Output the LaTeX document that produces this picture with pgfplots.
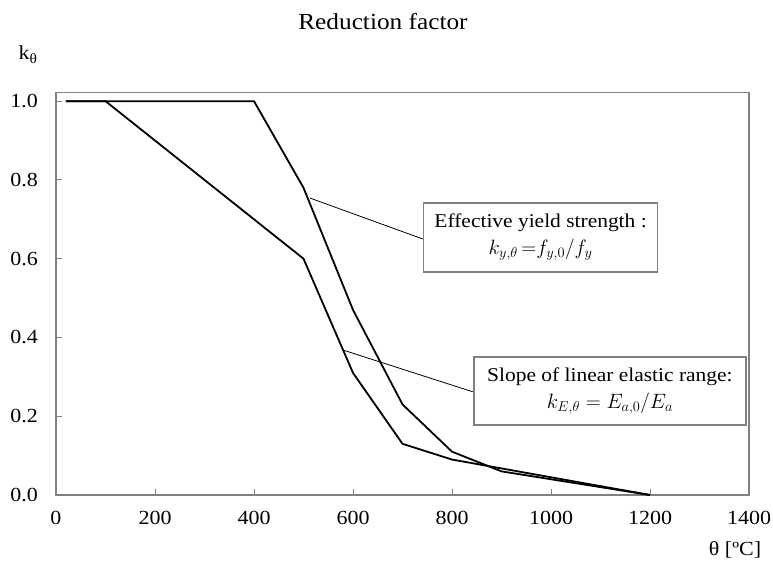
\documentclass[border=0pt]{standalone}
\usepackage{fontspec}
\setmainfont{Liberation Serif}[FakeStretch=1.1]
\usepackage{pgfplots}
\pgfplotsset{compat=1.18}
\definecolor{framegray}{RGB}{128,128,128}
\begin{document}
\begin{tikzpicture}[x=1pt,y=1pt]
\begin{axis}[
  at={(56pt,65pt)}, anchor=south west,
  scale only axis, width=693pt, height=402.5pt,
  xmin=0, xmax=1400, ymin=0, ymax=1.022,
  xtick={0,200,...,1400},
  ytick={0,0.2,0.4,0.6,0.8,1.0},
  axis line style={framegray, line width=1.3pt},
  tick style={framegray, line width=1pt},
  tick align=inside, major tick length=6pt,
  xtick pos=bottom, ytick pos=left,
  /pgf/number format/assume math mode=true,
  yticklabel={\pgfmathprintnumber[fixed,fixed zerofill,precision=1]{\tick}},
  xticklabel={\pgfmathprintnumber[fixed,precision=0,1000 sep={}]{\tick}},
  ticklabel style={font=\fontsize{20}{24}\selectfont, inner sep=0pt},
  yticklabel style={anchor=east, xshift=-18pt},
  xticklabel style={anchor=north, yshift=-16pt},
  clip=false,
]
% Effective yield strength k_y
\addplot[black, line width=1.8pt] coordinates {
 (20,1.0) (100,1.0) (200,1.0) (300,1.0) (400,1.0) (500,0.78) (600,0.47)
 (700,0.23) (800,0.11) (900,0.06) (1000,0.04) (1100,0.02) (1200,0.0)};
% Slope of linear elastic range k_E
\addplot[black, line width=1.8pt] coordinates {
 (20,1.0) (100,1.0) (200,0.9) (300,0.8) (400,0.7) (500,0.6) (600,0.31)
 (700,0.13) (800,0.09) (900,0.0675) (1000,0.045) (1100,0.0225) (1200,0.0)};
% leader lines
\draw[black, line width=0.8pt] (axis cs:513,0.754) -- (axis cs:741,0.650);
\draw[black, line width=0.8pt] (axis cs:580,0.368) -- (axis cs:842,0.262);
% boxes
\node[draw=framegray, line width=1.2pt, fill=white, minimum width=234pt, minimum height=69pt,
      inner sep=0pt, align=center, font=\fontsize{19.5}{27}\selectfont]
  at (axis cs:979,0.654) {Effective yield strength :\\ $k_{y,\theta}\,{=}f_{y,0}/f_y$};
\node[draw=framegray, line width=1.2pt, fill=white, minimum width=272pt, minimum height=68pt,
      inner sep=0pt, align=center, font=\fontsize{19.5}{27}\selectfont]
  at (axis cs:1119,0.264) {Slope of linear elastic range:\\ $k_{E,\theta}= E_{a,0}/E_a$};
\end{axis}
\node[anchor=base, font=\fontsize{23}{27}\selectfont] at (383pt,530pt) {Reduction factor};
\node[anchor=base, font=\fontsize{20}{24}\selectfont] at (28pt,500pt) {k\textsubscript{θ}};
\node[anchor=base, font=\fontsize{20}{24}\selectfont] at (735pt,5pt) {θ [ºC]};
\pgfresetboundingbox
\path (0,0) rectangle (773pt,560pt);
\end{tikzpicture}
\end{document}
